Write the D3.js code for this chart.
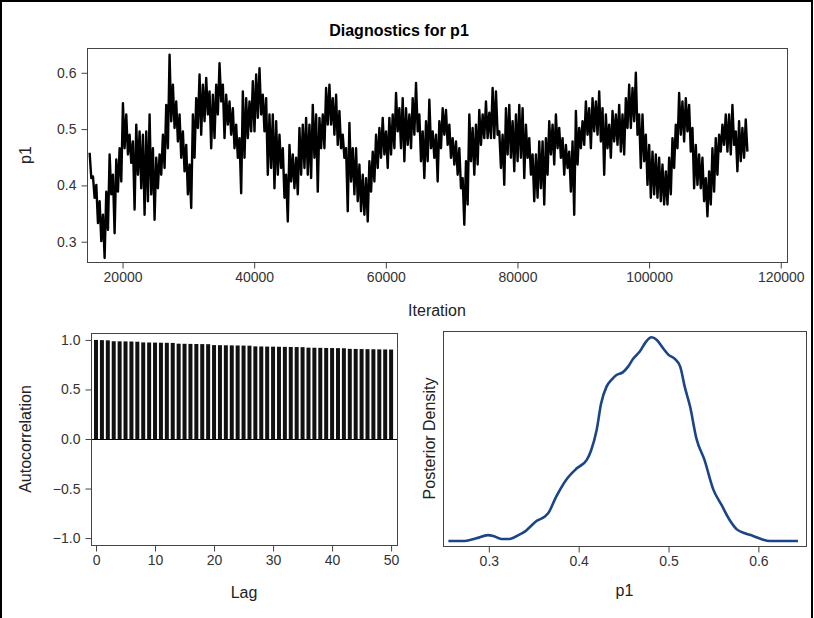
<!DOCTYPE html>
<html lang="en">
<head>
  <meta charset="UTF-8">
  <title>Diagnostics for p1</title>
  <script src="https://d3js.org/d3.v7.min.js"></script>
  <style>
    body {
      margin: 0;
      background: #fff;
      font-family: Arial, "Liberation Sans", sans-serif;
    }
    .frame {
      fill: none;
      stroke: #444;
      stroke-width: 1;
    }
    .axis path {
      display: none;
    }
    .axis line {
      stroke: #444;
    }
    .axis text {
      font-size: 14px;
      fill: #333;
    }
    .axis-label {
      font-size: 16px;
      fill: #222;
      text-anchor: middle;
    }
    .title {
      font-size: 16px;
      font-weight: bold;
      text-anchor: middle;
    }
  </style>
</head>
<body>
  <div id="chart"></div>
  <script>
    // trace of p1: sampled iterations start at 15000, one value every 253 iterations
    const traceStart = 15000;
    const traceStep = 253;
    const traceValues = [
      0.458, 0.413, 0.416, 0.378, 0.401, 0.333, 0.372, 0.301, 0.348, 0.271,
      0.389, 0.321, 0.455, 0.384, 0.419, 0.315, 0.446, 0.389, 0.466, 0.407,
      0.546, 0.466, 0.526, 0.455, 0.490, 0.440, 0.478, 0.357, 0.508, 0.419,
      0.496, 0.395, 0.490, 0.348, 0.496, 0.372, 0.526, 0.384, 0.466, 0.339,
      0.449, 0.395, 0.455, 0.419, 0.490, 0.431, 0.543, 0.466, 0.632, 0.514,
      0.579, 0.502, 0.549, 0.478, 0.526, 0.449, 0.496, 0.425, 0.472, 0.384,
      0.437, 0.360, 0.526, 0.449, 0.555, 0.502, 0.597, 0.490, 0.579, 0.514,
      0.591, 0.526, 0.567, 0.466, 0.561, 0.484, 0.579, 0.526, 0.617, 0.549,
      0.579, 0.484, 0.561, 0.508, 0.549, 0.490, 0.537, 0.466, 0.508, 0.449,
      0.484, 0.386, 0.567, 0.449, 0.555, 0.484, 0.549, 0.496, 0.585, 0.496,
      0.597, 0.520, 0.608, 0.526, 0.561, 0.496, 0.555, 0.419, 0.526, 0.431,
      0.526, 0.395, 0.514, 0.419, 0.490, 0.431, 0.466, 0.378, 0.419, 0.336,
      0.472, 0.407, 0.455, 0.395, 0.449, 0.384, 0.502, 0.419, 0.508, 0.431,
      0.520, 0.419, 0.508, 0.413,
      0.543, 0.449, 0.526, 0.389, 0.520, 0.466, 0.526, 0.466, 0.573, 0.508,
      0.579, 0.508, 0.555, 0.490, 0.561, 0.472, 0.532, 0.466, 0.490, 0.449,
      0.466, 0.354, 0.511, 0.407, 0.466, 0.384, 0.466, 0.372, 0.437, 0.354,
      0.419, 0.348, 0.413, 0.336, 0.443, 0.389, 0.460, 0.407, 0.490, 0.431,
      0.502, 0.449, 0.520, 0.455, 0.496, 0.431, 0.520, 0.455, 0.526, 0.466,
      0.564, 0.496, 0.537, 0.466, 0.555, 0.443, 0.537, 0.472, 0.526, 0.466,
      0.555, 0.490, 0.582, 0.496, 0.526, 0.443, 0.496, 0.413, 0.514, 0.443,
      0.552, 0.466, 0.496, 0.449, 0.490, 0.407, 0.514, 0.466, 0.537, 0.490,
      0.534, 0.472, 0.508, 0.449, 0.484, 0.437, 0.478, 0.419, 0.466, 0.395,
      0.413, 0.330, 0.443, 0.366, 0.526, 0.443, 0.502, 0.419, 0.508, 0.437,
      0.534, 0.472, 0.526, 0.484, 0.549, 0.484, 0.529, 0.484, 0.573, 0.484,
      0.567, 0.490, 0.496, 0.431, 0.490, 0.401, 0.537, 0.455, 0.543, 0.449,
      0.514, 0.425, 0.526, 0.443, 0.543, 0.449, 0.537, 0.413, 0.508, 0.449,
      0.484, 0.419, 0.455, 0.372, 0.455, 0.378, 0.478, 0.395, 0.478, 0.366,
      0.484, 0.419, 0.514, 0.455, 0.508, 0.437, 0.526, 0.466, 0.502, 0.449,
      0.484, 0.419, 0.472, 0.431, 0.460, 0.389, 0.478, 0.348, 0.532, 0.437,
      0.502, 0.466, 0.514, 0.472, 0.549, 0.490, 0.537, 0.466, 0.555, 0.496,
      0.549, 0.490, 0.567, 0.478, 0.537, 0.419, 0.526, 0.466, 0.508, 0.449,
      0.532, 0.478, 0.526, 0.472, 0.543, 0.460, 0.526, 0.455, 0.555, 0.502,
      0.579, 0.502, 0.573, 0.514, 0.600, 0.490, 0.526, 0.431, 0.526, 0.443,
      0.490, 0.401, 0.472, 0.378, 0.460, 0.384, 0.455, 0.378, 0.449, 0.372,
      0.437, 0.366, 0.425, 0.366, 0.449, 0.384, 0.484, 0.431, 0.508, 0.466,
      0.564, 0.490, 0.549, 0.478, 0.555, 0.496, 0.543, 0.460, 0.502, 0.395,
      0.472, 0.401, 0.455, 0.395, 0.449, 0.372, 0.413, 0.345, 0.425, 0.366,
      0.466, 0.389, 0.484, 0.419, 0.490, 0.460, 0.508, 0.472, 0.526, 0.460,
      0.526, 0.455, 0.543, 0.472, 0.496, 0.425, 0.514, 0.443, 0.502, 0.449,
      0.517, 0.460
    ];
    const traceXTicks = [20000, 40000, 60000, 80000, 100000, 120000];
    const traceYTicks = [0.3, 0.4, 0.5, 0.6];

    // autocorrelation by lag
    const lags = d3.range(0, 51);
    const acfValues = [
      1.000, 0.998, 0.996, 0.987, 0.986, 0.985, 0.984, 0.982, 0.975, 0.974,
      0.973, 0.972, 0.971, 0.970, 0.962, 0.961, 0.960, 0.959, 0.958, 0.957,
      0.948, 0.947, 0.946, 0.945, 0.944, 0.943, 0.942, 0.935, 0.934, 0.933,
      0.932, 0.931, 0.930, 0.929, 0.928, 0.927, 0.922, 0.921, 0.920, 0.919,
      0.918, 0.917, 0.916, 0.910, 0.909, 0.908, 0.907, 0.906, 0.905, 0.904,
      0.903
    ];
    const acfXTicks = [0, 10, 20, 30, 40, 50];
    const acfYTicks = [-1.0, -0.5, 0.0, 0.5, 1.0];

    // kernel density of p1 (relative height)
    const densityX = [
      0.255, 0.273, 0.286, 0.299, 0.305, 0.314, 0.323, 0.333, 0.340, 0.346,
      0.353, 0.362, 0.366, 0.375, 0.386, 0.398, 0.409, 0.414, 0.420, 0.425,
      0.431, 0.437, 0.442, 0.449, 0.455, 0.461, 0.468, 0.475, 0.481, 0.487,
      0.494, 0.500, 0.507, 0.513, 0.518, 0.524, 0.531, 0.540, 0.550, 0.559,
      0.568, 0.576, 0.585, 0.594, 0.603, 0.613, 0.644
    ];
    const densityY = [
      0.000, 0.000, 0.013, 0.029, 0.025, 0.010, 0.010, 0.029, 0.046, 0.070,
      0.098, 0.119, 0.136, 0.218, 0.300, 0.357, 0.398, 0.447, 0.545, 0.676,
      0.758, 0.794, 0.815, 0.828, 0.856, 0.897, 0.930, 0.979, 1.000, 0.987,
      0.946, 0.914, 0.894, 0.856, 0.758, 0.660, 0.504, 0.398, 0.251, 0.177,
      0.103, 0.057, 0.038, 0.025, 0.010, 0.000, 0.000
    ];
    const densityXTicks = [0.3, 0.4, 0.5, 0.6];

    const svgWidth = 814;
    const svgHeight = 618;

    const svg = d3.select("#chart").append("svg")
      .attr("width", svgWidth)
      .attr("height", svgHeight);

    // outer border of the output cell
    svg.append("path")
      .attr("d", `M1,${svgHeight} V1 H812 V${svgHeight}`)
      .attr("fill", "none")
      .attr("stroke", "#000")
      .attr("stroke-width", 2);

    svg.append("text")
      .attr("class", "title")
      .attr("x", 399)
      .attr("y", 36)
      .text("Diagnostics for p1");

    // ---- trace plot ----
    const trace = { left: 87, right: 787, top: 48, bottom: 262 };

    const xTrace = d3.scaleLinear()
      .domain([14600, 120950])
      .range([trace.left, trace.right]);

    const yTrace = d3.scaleLinear()
      .domain([0.264, 0.644])
      .range([trace.bottom, trace.top]);

    const traceLine = d3.line()
      .x((d, i) => xTrace(traceStart + i * traceStep))
      .y(d => yTrace(d));

    svg.append("path")
      .datum(traceValues)
      .attr("fill", "none")
      .attr("stroke", "#000")
      .attr("stroke-width", 2.4)
      .attr("stroke-linejoin", "round")
      .attr("d", traceLine);

    svg.append("rect")
      .attr("class", "frame")
      .attr("x", trace.left + 0.5)
      .attr("y", trace.top + 0.5)
      .attr("width", trace.right - trace.left)
      .attr("height", trace.bottom - trace.top);

    svg.append("g")
      .attr("class", "axis")
      .attr("transform", `translate(0,${trace.bottom + 0.5})`)
      .call(d3.axisBottom(xTrace).tickValues(traceXTicks).tickFormat(d3.format("d")).tickSize(6).tickPadding(4));

    svg.append("g")
      .attr("class", "axis")
      .attr("transform", `translate(${trace.left + 0.5},0)`)
      .call(d3.axisLeft(yTrace).tickValues(traceYTicks).tickFormat(d3.format(".1f")).tickSize(6).tickPadding(5));

    svg.append("text")
      .attr("class", "axis-label")
      .attr("x", (trace.left + trace.right) / 2)
      .attr("y", 316)
      .text("Iteration");

    svg.append("text")
      .attr("class", "axis-label")
      .attr("transform", `translate(31,${(trace.top + trace.bottom) / 2}) rotate(-90)`)
      .text("p1");

    // ---- autocorrelation plot ----
    const acf = { left: 91, right: 397, top: 333, bottom: 545 };

    const xAcf = d3.scaleLinear()
      .domain([-0.85, 51])
      .range([acf.left, acf.right]);

    const yAcf = d3.scaleLinear()
      .domain([-1.07, 1.07])
      .range([acf.bottom, acf.top]);

    const barW = 4;
    svg.append("g")
      .selectAll("rect")
      .data(lags)
      .join("rect")
      .attr("x", d => xAcf(d) - barW / 2)
      .attr("y", (d, i) => yAcf(acfValues[i]))
      .attr("width", barW)
      .attr("height", (d, i) => yAcf(0) - yAcf(acfValues[i]))
      .attr("fill", "#111");

    svg.append("line")
      .attr("x1", acf.left)
      .attr("x2", acf.right)
      .attr("y1", Math.round(yAcf(0)) + 0.5)
      .attr("y2", Math.round(yAcf(0)) + 0.5)
      .attr("stroke", "#000")
      .attr("stroke-width", 1.2);

    svg.append("rect")
      .attr("class", "frame")
      .attr("x", acf.left + 0.5)
      .attr("y", acf.top + 0.5)
      .attr("width", acf.right - acf.left)
      .attr("height", acf.bottom - acf.top);

    svg.append("g")
      .attr("class", "axis")
      .attr("transform", `translate(0,${acf.bottom + 0.5})`)
      .call(d3.axisBottom(xAcf).tickValues(acfXTicks).tickFormat(d3.format("d")).tickSize(6).tickPadding(4));

    svg.append("g")
      .attr("class", "axis")
      .attr("transform", `translate(${acf.left + 0.5},0)`)
      .call(d3.axisLeft(yAcf).tickValues(acfYTicks).tickFormat(d3.format(".1f")).tickSize(6).tickPadding(5));

    svg.append("text")
      .attr("class", "axis-label")
      .attr("x", (acf.left + acf.right) / 2)
      .attr("y", 598)
      .text("Lag");

    svg.append("text")
      .attr("class", "axis-label")
      .attr("transform", `translate(31,${(acf.top + acf.bottom) / 2}) rotate(-90)`)
      .text("Autocorrelation");

    // ---- density plot ----
    const dens = { left: 443, right: 806, top: 331, bottom: 546 };

    const xDens = d3.scaleLinear()
      .domain([0.249, 0.653])
      .range([dens.left, dens.right]);

    const yDens = d3.scaleLinear()
      .domain([-0.0245, 1.031])
      .range([dens.bottom, dens.top]);

    const densLine = d3.line()
      .x((d, i) => xDens(densityX[i]))
      .y(d => yDens(d))
      .curve(d3.curveMonotoneX);

    svg.append("path")
      .datum(densityY)
      .attr("fill", "none")
      .attr("stroke", "#1c4587")
      .attr("stroke-width", 2.6)
      .attr("stroke-linejoin", "round")
      .attr("d", densLine);

    svg.append("rect")
      .attr("class", "frame")
      .attr("x", dens.left + 0.5)
      .attr("y", dens.top + 0.5)
      .attr("width", dens.right - dens.left)
      .attr("height", dens.bottom - dens.top);

    svg.append("g")
      .attr("class", "axis")
      .attr("transform", `translate(0,${dens.bottom + 0.5})`)
      .call(d3.axisBottom(xDens).tickValues(densityXTicks).tickFormat(d3.format(".1f")).tickSize(6).tickPadding(4));

    svg.append("text")
      .attr("class", "axis-label")
      .attr("x", (dens.left + dens.right) / 2)
      .attr("y", 596)
      .text("p1");

    svg.append("text")
      .attr("class", "axis-label")
      .attr("transform", `translate(435,${(dens.top + dens.bottom) / 2}) rotate(-90)`)
      .text("Posterior Density");
  </script>
</body>
</html>
